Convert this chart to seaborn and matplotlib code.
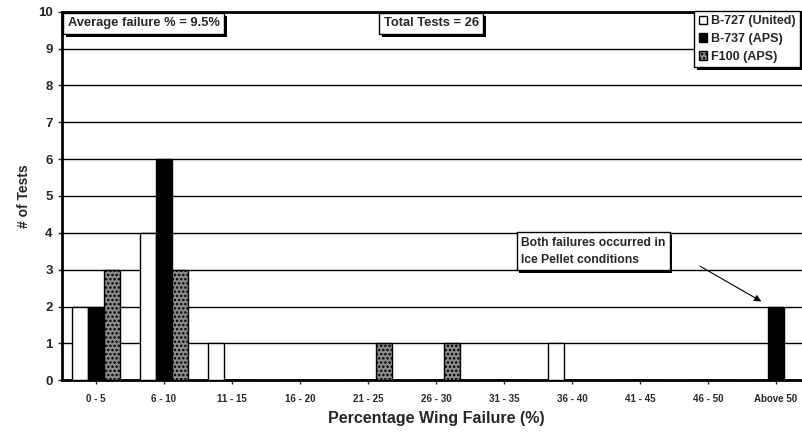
import pandas as pd
import matplotlib
matplotlib.use("Agg")
import matplotlib.pyplot as plt
import matplotlib.patheffects as pe
from matplotlib.patches import Patch
import seaborn as sns

categories = ["0 - 5", "6 - 10", "11 - 15", "16 - 20", "21 - 25", "26 - 30",
              "31 - 35", "36 - 40", "41 - 45", "46 - 50", "Above 50"]
b727 = [2, 4, 1, 0, 0, 0, 0, 1, 0, 0, 0]
b737 = [2, 6, 0, 0, 0, 0, 0, 0, 0, 0, 2]
f100 = [3, 3, 0, 0, 1, 1, 0, 0, 0, 0, 0]
series = ["B-727 (United)", "B-737 (APS)", "F100 (APS)"]
colors = ["white", "black", "#8c8c8c"]

rows = []
for name, vals in zip(series, [b727, b737, f100]):
    for c, v in zip(categories, vals):
        rows.append({"range": c, "aircraft": name, "tests": v})
df = pd.DataFrame(rows)

sns.set_style("white")
plt.rcParams['font.family'] = ['Liberation Sans', 'DejaVu Sans']
plt.rcParams['hatch.linewidth'] = 1.2

fig = plt.figure(figsize=(8.02, 4.37), dpi=100)
ax = fig.add_axes([0.077, 0.130, 0.933, 0.843])

sns.barplot(data=df, x="range", y="tests", hue="aircraft", order=categories,
            hue_order=series, palette=colors, edgecolor="black", linewidth=1,
            width=0.7, ax=ax, legend=False, zorder=3)
for bar in ax.containers[2]:
    bar.set_hatch("....")

ax.set_xlim(-0.5, 10.5)
ax.set_ylim(0, 10)
ax.set_yticks(range(0, 11))
ax.yaxis.grid(True, color="black", linewidth=1, zorder=0)
ax.set_axisbelow(True)
for s in ["left", "top", "bottom"]:
    ax.spines[s].set_linewidth(2)
    ax.spines[s].set_color("black")
ax.spines["right"].set_visible(False)

ax.tick_params(axis="y", labelsize=9.5, length=3, width=1, direction="out", left=True)
ax.tick_params(axis="x", labelsize=7, length=3, width=1, direction="out", bottom=True, pad=7)
for lab in ax.get_xticklabels() + ax.get_yticklabels():
    lab.set_fontweight("bold")
ax.set_xlabel("Percentage Wing Failure (%)", fontsize=11.5, fontweight="bold", labelpad=5)
ax.set_ylabel("# of Tests", fontsize=10, fontweight="bold", labelpad=5)

shadow = [pe.withSimplePatchShadow(offset=(2, -2), shadow_rgbFace="black", alpha=1)]
box = dict(boxstyle="square,pad=0.35", fc="white", ec="black", lw=1)

t1 = ax.text(0.008, 0.985, "Average failure % = 9.5%", transform=ax.transAxes,
             fontsize=9.3, fontweight="bold", va="top", ha="left", bbox=box, zorder=5)
t2 = ax.text(0.494, 0.985, "Total Tests = 26", transform=ax.transAxes,
             fontsize=9.3, fontweight="bold", va="top", ha="center", bbox=box, zorder=5)
t3 = ax.text(6.25, 3.9, "Both failures occurred in\nIce Pellet conditions",
             fontsize=8.7, fontweight="bold", va="top", ha="left", bbox=box,
             linespacing=1.6, zorder=5)
for t in (t1, t2, t3):
    t.get_bbox_patch().set_path_effects(shadow)

ax.annotate("", xy=(9.82, 2.1), xytext=(8.85, 3.13),
            arrowprops=dict(arrowstyle="-|>", color="black", lw=0.8,
                            mutation_scale=10), zorder=5)

handles = [Patch(facecolor=c, edgecolor="black", label=n) for c, n in zip(colors, series)]
handles[2].set_hatch("....")
leg = fig.legend(handles=handles, loc="upper right", bbox_to_anchor=(0.997, 0.975),
                 frameon=True, fancybox=False, shadow=False, framealpha=1, fontsize=9,
                 handlelength=0.7, handleheight=0.7, handletextpad=0.25,
                 borderpad=0.35, labelspacing=0.45, borderaxespad=0)
leg.get_frame().set_edgecolor("black")
leg.get_frame().set_facecolor("white")
leg.get_frame().set_linewidth(1)
leg.get_frame().set_path_effects(shadow)
for txt in leg.get_texts():
    txt.set_fontweight("bold")

fig.savefig("out.png", dpi=100)
plt.close(fig)
